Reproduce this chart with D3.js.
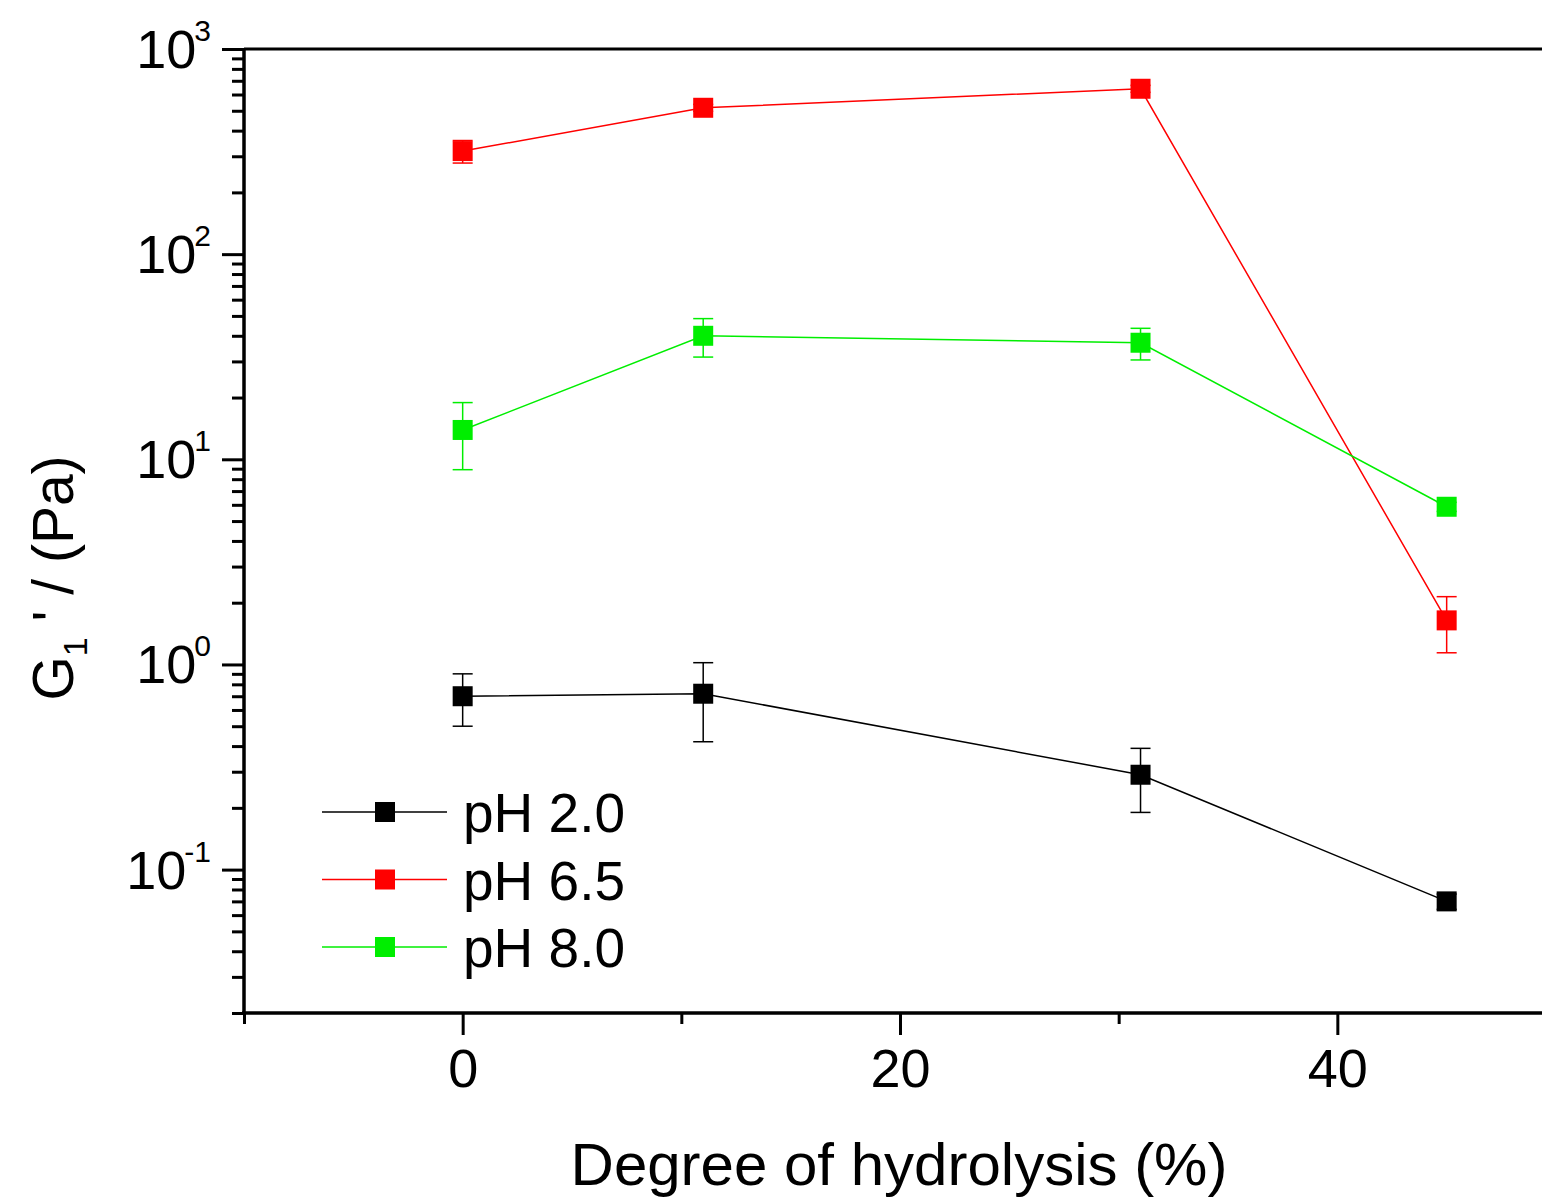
<!DOCTYPE html>
<html><head><meta charset="utf-8">
<script src="https://cdn.jsdelivr.net/npm/d3@7"></script>
<style>body{margin:0;background:#fff} svg{display:block} text{font-family:"Liberation Sans",Arial,sans-serif;fill:#000}</style>
</head><body><svg id="c" width="1542" height="1204"></svg>
<script>
// ---- data ----
const xValues = [0, 11, 31, 45];
const seriesNames = ["pH 2.0", "pH 6.5", "pH 8.0"];
const seriesColors = ["#000000", "#ff0000", "#00ee00"];
const ph20 = [0.70, 0.72, 0.29, 0.070];
const ph20Err = [0.20, 0.30, 0.10, 0.006];
const ph65 = [318, 517, 640, 1.64];
const ph65Err = [40, 20, 25, 0.50];
const ph80 = [13.9, 40.0, 37.0, 5.87];
const ph80Err = [5.0, 8.5, 6.5, 0.30];
const xMajorTicks = [0, 20, 40];
const xMinorTicks = [-10, 10, 30, 50];
const yExponents = [-1, 0, 1, 2, 3];
const xTitle = "Degree of hydrolysis (%)";

const seriesValues = [ph20, ph65, ph80];
const seriesErrors = [ph20Err, ph65Err, ph80Err];

// ---- layout ----
const svg = d3.select("#c");
const L = 244, R = 1556, T = 49, B = 1013;
const x = d3.scaleLinear().domain([-10, 50]).range([L, R]);
const y = d3.scaleLog().domain([0.02, 1000]).range([B, T]);

// minor y ticks
const yMinor = [];
for (let e = -2; e <= 2; e++) for (let m = 2; m <= 9; m++) {
  const v = m * Math.pow(10, e);
  if (v >= 0.02 && v <= 1000) yMinor.push(v);
}
const yMajor = yExponents.map(e => Math.pow(10, e));

// frame (top & right lines)
svg.append("line").attr("x1", L).attr("x2", R).attr("y1", T).attr("y2", T)
  .attr("stroke", "#000").attr("stroke-width", 3);
svg.append("line").attr("x1", R).attr("x2", R).attr("y1", T).attr("y2", B)
  .attr("stroke", "#000").attr("stroke-width", 3);

// y axis
const gyMin = svg.append("g").attr("transform", `translate(${L},0)`)
  .call(d3.axisLeft(y).tickValues(yMinor).tickSize(12).tickFormat(""));
const gyMaj = svg.append("g").attr("transform", `translate(${L},0)`)
  .call(d3.axisLeft(y).tickValues(yMajor).tickSize(22).tickFormat(""));
[gyMin, gyMaj].forEach(g => {
  g.select(".domain").attr("stroke-width", 3).attr("d", `M0,${T}V${B + 2}`);
  g.selectAll(".tick line").attr("stroke-width", 3);
});
yExponents.forEach(e => {
  const t = svg.append("text").attr("x", 211).attr("y", y(Math.pow(10, e)) + 19)
    .attr("text-anchor", "end").attr("font-size", 54);
  t.append("tspan").text("10");
  t.append("tspan").attr("font-size", 30).attr("dy", -27).attr("dx", -2).text(String(e));
});

// x axis
const gxMin = svg.append("g").attr("transform", `translate(0,${B})`)
  .call(d3.axisBottom(x).tickValues(xMinorTicks).tickSize(11).tickFormat(""));
const gxMaj = svg.append("g").attr("transform", `translate(0,${B})`)
  .call(d3.axisBottom(x).tickValues(xMajorTicks).tickSize(22).tickPadding(14).tickFormat(d3.format("d")));
[gxMin, gxMaj].forEach(g => {
  g.select(".domain").attr("stroke-width", 3).attr("d", `M${L - 2},0H${R}`);
  g.selectAll(".tick line").attr("stroke-width", 3);
});
gxMaj.selectAll(".tick text").attr("font-size", 54).attr("font-family", '"Liberation Sans",Arial,sans-serif');

// axis titles
svg.append("text").attr("x", 899).attr("y", 1185).attr("text-anchor", "middle")
  .attr("font-size", 60).text(xTitle);
const yt = svg.append("text").attr("transform", "translate(73,578) rotate(-90)")
  .attr("text-anchor", "middle").attr("font-size", 57);
yt.append("tspan").text("G");
yt.append("tspan").attr("font-size", 34).attr("dy", 14).text("1");
yt.append("tspan").attr("dy", -14).text(" ' / (Pa)");

// series
const line = d3.line().x(d => x(d[0])).y(d => y(d[1]));
const plot = svg.append("g");
seriesValues.forEach((vals, si) => {
  const col = seriesColors[si];
  const pts = vals.map((v, i) => [xValues[i], v, seriesErrors[si][i]]);
  const g = plot.append("g");
  g.append("path").attr("d", line(pts)).attr("fill", "none").attr("stroke", col).attr("stroke-width", 1.5);
  pts.forEach(p => {
    const cx = x(p[0]), yl = y(Math.max(p[1] - p[2], 0.021)), yh = y(p[1] + p[2]);
    g.append("line").attr("x1", cx).attr("x2", cx).attr("y1", yl).attr("y2", yh).attr("stroke", col).attr("stroke-width", 1.5);
    g.append("line").attr("x1", cx - 10).attr("x2", cx + 10).attr("y1", yl).attr("y2", yl).attr("stroke", col).attr("stroke-width", 1.5);
    g.append("line").attr("x1", cx - 10).attr("x2", cx + 10).attr("y1", yh).attr("y2", yh).attr("stroke", col).attr("stroke-width", 1.5);
  });
  g.selectAll("rect").data(pts).join("rect")
    .attr("x", d => x(d[0]) - 10).attr("y", d => y(d[1]) - 10)
    .attr("width", 20).attr("height", 20).attr("fill", col);
});

// legend
seriesNames.forEach((name, i) => {
  const ly = 812 + i * 67.5;
  const col = seriesColors[i];
  svg.append("line").attr("x1", 322).attr("x2", 447).attr("y1", ly).attr("y2", ly)
    .attr("stroke", col).attr("stroke-width", 1.5);
  svg.append("rect").attr("x", 375).attr("y", ly - 10).attr("width", 20).attr("height", 20).attr("fill", col);
  svg.append("text").attr("x", 463).attr("y", ly + 20).attr("font-size", 55).text(name);
});
</script></body></html>
